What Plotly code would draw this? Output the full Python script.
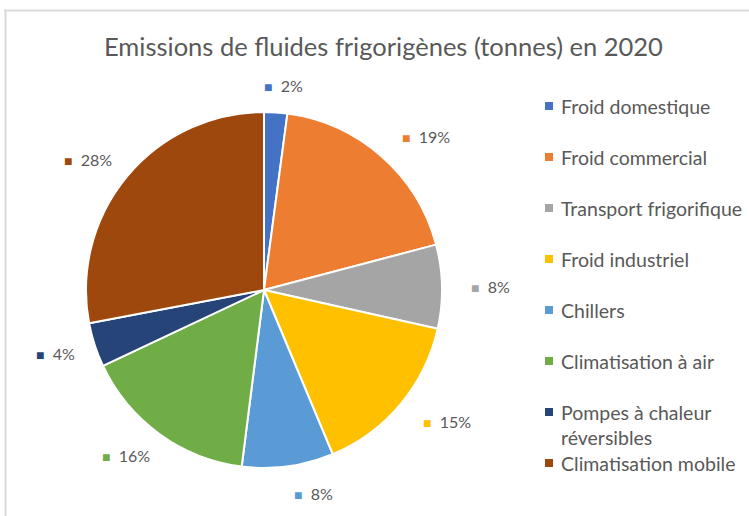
import math
import plotly.graph_objects as go

W, H = 749, 516

categories = ["Froid domestique", "Froid commercial", "Transport frigorifique",
              "Froid industriel", "Chillers", "Climatisation à air",
              "Pompes à chaleur réversibles", "Climatisation mobile"]
legend_text = ["Froid domestique", "Froid commercial", "Transport frigorifique",
               "Froid industriel", "Chillers", "Climatisation à air",
               "Pompes à chaleur<br>réversibles", "Climatisation mobile"]
values = [2.1, 18.8, 7.6, 15.2, 8.3, 16.0, 4.0, 28.0]
colors = ["#4472C4", "#ED7D31", "#A5A5A5", "#FFC000",
          "#5B9BD5", "#70AD47", "#264478", "#9E480E"]
title_text = "Emissions de fluides frigorigènes (tonnes) en 2020"

FONT = "Lato"
TXT = "#595959"

# pie geometry (pixels)
cx, cy, R = 264, 290, 178


def px(x):
    return x / W


def py(y):
    return 1 - y / H


fig = go.Figure()
fig.add_trace(go.Pie(
    labels=categories, values=values, sort=False, direction="clockwise",
    rotation=0, textinfo="none", showlegend=False,
    marker=dict(colors=colors, line=dict(color="white", width=2)),
    domain=dict(x=[px(cx - R), px(cx + R)], y=[py(cy + R), py(cy - R)]),
))

annotations = []
shapes = []

# data labels
total = sum(values)
cum = 0.0
for v, c in zip(values, colors):
    mid = (cum + v / 2) / total * 2 * math.pi
    cum += v
    rl = R + 27
    lx = cx + rl * math.sin(mid)
    ly = cy - rl * math.cos(mid)
    s = math.sin(mid)
    if s > 0.1:
        anchor = "left"
    elif s < -0.1:
        anchor = "right"
        lx += 8
    else:
        anchor = "center"
        lx += 6
    pct = round(v / total * 100)
    annotations.append(dict(
        x=px(lx), y=py(ly), xref="paper", yref="paper", showarrow=False,
        xanchor=anchor, yanchor="middle",
        text=f'<span style="color:{c};font-size:14px">■</span>\u00a0\u00a0{pct}%',
        font=dict(family=FONT, size=16, color=TXT),
    ))

# legend (manual)
for i, (lab, c) in enumerate(zip(legend_text, colors)):
    yc = 106 + 51 * i
    shapes.append(dict(type="rect", xref="paper", yref="paper",
                       x0=px(545), x1=px(553), y0=py(yc + 4), y1=py(yc - 4),
                       fillcolor=c, line=dict(width=0)))
    annotations.append(dict(
        x=px(559), y=py(yc - 13), xref="paper", yref="paper", showarrow=False,
        xanchor="left", yanchor="top", align="left", text=lab,
        font=dict(family=FONT, size=19.5, color=TXT),
    ))

# title
annotations.append(dict(
    x=px(383), y=py(46), xref="paper", yref="paper", showarrow=False,
    xanchor="center", yanchor="middle", text=title_text,
    font=dict(family=FONT, size=25.5, color=TXT),
))

# chart frame
shapes.append(dict(type="line", xref="paper", yref="paper",
                   x0=px(4), x1=px(W + 5), y0=py(10.5), y1=py(10.5),
                   line=dict(color="#D9D9D9", width=2)))
shapes.append(dict(type="line", xref="paper", yref="paper",
                   x0=px(5.5), x1=px(5.5), y0=py(10), y1=py(H + 5),
                   line=dict(color="#D9D9D9", width=2)))

fig.update_layout(
    width=W, height=H, margin=dict(l=0, r=0, t=0, b=0),
    paper_bgcolor="white", plot_bgcolor="white",
    annotations=annotations, shapes=shapes,
    font=dict(family=FONT, color=TXT),
)

fig.write_html("out.html",
               config={"displayModeBar": False},
               post_script="document.body.style.margin='0';"
                           "document.body.style.overflow='hidden';")
